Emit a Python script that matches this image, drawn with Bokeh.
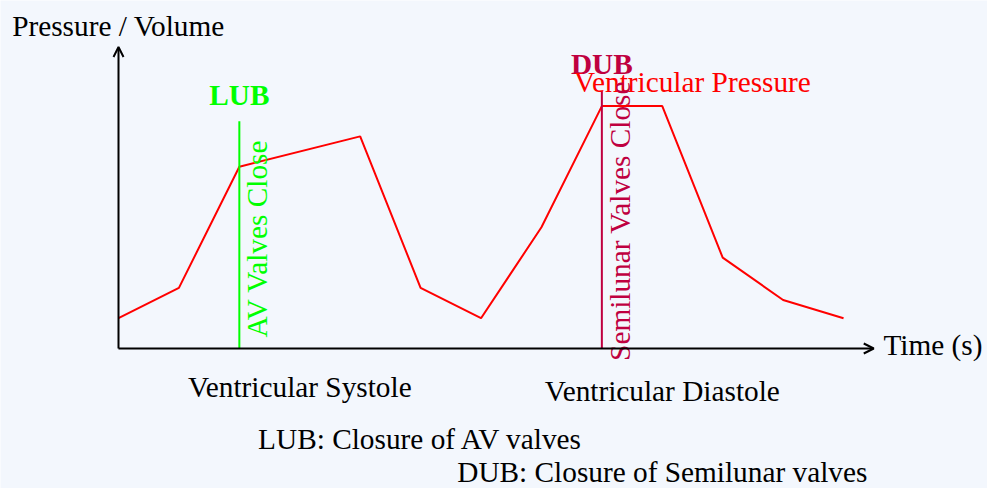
from bokeh.plotting import figure
from bokeh.models import Arrow, OpenHead
from bokeh.core.properties import value
from bokeh.embed import file_html
from bokeh.resources import INLINE
import math

# Data
time_s = [0, 1, 2, 4, 5, 6, 7, 8, 9, 10, 11, 12]
ventricular_pressure = [1, 2, 6, 7, 2, 1, 4, 8, 8, 3, 1.6, 1]

lub_time = 2
lub_top = 7.5
dub_time = 8
dub_top = 8.5

BG = "#f3f7fd"
FONT = value("Liberation Serif")
FS = "29.3px"
LW = 2

# pixel mapping (page): x 0 -> 118px, 60.42 px/unit ; y 0 -> 348px, 30.3 px/unit
W, H = 987, 488
XS, YS = 60.42, 30.3
x0 = -118 / XS
x1 = (W - 118) / XS
y1 = 348 / YS
y0 = (348 - H) / YS

# baseline correction for text placement (pixels)
DY = 10 / YS
DX = 10 / XS

p = figure(width=W, height=H, x_range=(x0, x1), y_range=(y0, y1),
           output_backend="svg", toolbar_location=None,
           min_border=0, min_border_left=0, min_border_right=0,
           min_border_top=0, min_border_bottom=0)
p.axis.visible = False
p.grid.visible = False
p.outline_line_color = None
p.background_fill_color = BG
p.border_fill_color = BG

# axes with arrows
p.add_layout(Arrow(end=OpenHead(size=10, line_width=LW, line_color="black"),
                   x_start=0, y_start=0, x_end=12.5, y_end=0,
                   line_width=LW, line_color="black"))
p.add_layout(Arrow(end=OpenHead(size=10, line_width=LW, line_color="black"),
                   x_start=0, y_start=0, x_end=0, y_end=9.95,
                   line_width=LW, line_color="black"))

# pressure curve
p.line(time_s, ventricular_pressure, line_color="#ff0000", line_width=LW)

# valve closure lines
p.segment(x0=[lub_time], y0=[0], x1=[lub_time], y1=[lub_top], line_color="#00ff00", line_width=LW)
p.segment(x0=[dub_time], y0=[0], x1=[dub_time], y1=[dub_top], line_color="#bf0040", line_width=LW)

def txt(x, y, s, color="black", align="center", angle=0.0, style="normal"):
    if angle:
        x = x - DX
    else:
        y = y + DY
    p.text(x=[x], y=[y], text=[s], text_color=color, text_font=FONT,
           text_font_size=FS, text_align=align, text_baseline="alphabetic",
           angle=angle, text_font_style=style)

txt(lub_time, 8.05, "LUB", color="#00ff00", style="bold")
txt(dub_time, 9.07, "DUB", color="#bf0040", style="bold")
txt(9.5, 8.48, "Ventricular Pressure", color="#ff0000")
txt(2.46, 3.63, "AV Valves Close", color="#00ff00", angle=math.pi / 2)
txt(8.47, 4.21, "Semilunar Valves Close", color="#bf0040", angle=math.pi / 2)

txt(0, 10.33, "Pressure / Volume")
txt(12.66, -0.23, "Time (s)", align="left")
txt(3, -1.61, "Ventricular Systole")
txt(9, -1.72, "Ventricular Diastole")
txt(5, -3.31, "LUB: Closure of AV valves")
txt(9, -4.40, "DUB: Closure of Semilunar valves")

open("out.html", "w").write(file_html(p, INLINE))
